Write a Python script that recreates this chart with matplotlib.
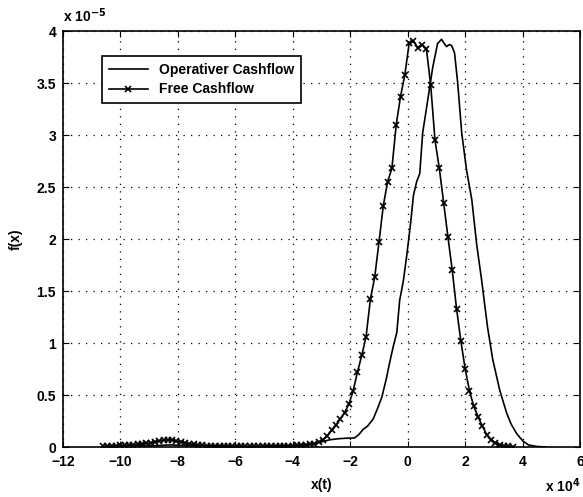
import matplotlib
matplotlib.use('Agg')
import matplotlib.pyplot as plt

plt.rcParams['font.family'] = ['Liberation Sans', 'DejaVu Sans']
plt.rcParams['font.weight'] = 'bold'

# x in units of 1e4, f(x) in units of 1e-5
op_x = [-10.5, -9.0, -8.3, -7.0, -5.0, -4.0, -3.3, -3.0, -2.7, -2.4, -2.1, -1.85,
        -1.7, -1.55, -1.4, -1.2, -1.05, -0.9, -0.75, -0.63, -0.5, -0.38, -0.28,
        -0.15, -0.03, 0.1, 0.2, 0.31, 0.42, 0.52, 0.7, 0.87, 1.04, 1.18, 1.27,
        1.35, 1.45, 1.53, 1.63, 1.74, 1.88, 2.05, 2.23, 2.4, 2.57, 2.78, 2.96,
        3.2, 3.44, 3.6, 3.79, 4.0, 4.2, 4.5, 4.8]
op_y = [0.003, 0.01, 0.02, 0.008, 0.005, 0.01, 0.03, 0.05, 0.07, 0.08, 0.085, 0.087,
        0.12, 0.17, 0.2, 0.27, 0.37, 0.48, 0.65, 0.81, 0.97, 1.10, 1.41,
        1.6, 1.85, 2.15, 2.42, 2.55, 2.63, 3.02, 3.34, 3.65, 3.88, 3.92, 3.88,
        3.85, 3.87, 3.86, 3.79, 3.5, 3.02, 2.66, 2.38, 1.95, 1.61, 1.15, 0.84,
        0.55, 0.33, 0.22, 0.13, 0.06, 0.02, 0.005, 0.0]

free_x = [-10.6, -10.45, -10.3, -10.15, -10.0, -9.85, -9.7, -9.55, -9.4, -9.25,
          -9.1, -8.95, -8.8, -8.65, -8.5, -8.35, -8.2, -8.05, -7.9, -7.75,
          -7.6, -7.45, -7.3, -7.15, -7.0, -6.85, -6.7, -6.55, -6.4, -6.25,
          -6.1, -5.95, -5.8, -5.65, -5.5, -5.35, -5.2, -5.05, -4.9, -4.75,
          -4.6, -4.45, -4.3, -4.15, -4.0, -3.85, -3.7, -3.55, -3.4, -3.25,
          -3.1, -2.95, -2.8, -2.65, -2.5, -2.35, -2.2, -2.05, -1.9, -1.75,
          -1.6, -1.45, -1.3, -1.15, -1.0, -0.85, -0.7, -0.55, -0.4, -0.25,
          -0.1, 0.05, 0.2, 0.35, 0.5, 0.65, 0.8, 0.95, 1.1, 1.25,
          1.4, 1.55, 1.7, 1.85, 2.0, 2.15, 2.3, 2.45, 2.6, 2.75,
          2.9, 3.05, 3.2, 3.35, 3.5, 3.65]
free_y = [0.005, 0.008, 0.01, 0.012, 0.015, 0.018, 0.02, 0.022, 0.025, 0.03,
          0.035, 0.04, 0.05, 0.058, 0.065, 0.07, 0.068, 0.06, 0.05, 0.04,
          0.032, 0.025, 0.02, 0.016, 0.013, 0.011, 0.01, 0.009, 0.008, 0.007,
          0.007, 0.006, 0.006, 0.006, 0.006, 0.006, 0.006, 0.007, 0.007, 0.008,
          0.009, 0.01, 0.011, 0.012, 0.013, 0.015, 0.017, 0.02, 0.025, 0.032,
          0.045, 0.07, 0.11, 0.16, 0.21, 0.27, 0.33, 0.41, 0.54, 0.72,
          0.88, 1.06, 1.42, 1.63, 1.97, 2.32, 2.55, 2.68, 3.1, 3.37,
          3.58, 3.88, 3.9, 3.84, 3.87, 3.83, 3.48, 2.95, 2.68, 2.35,
          2.02, 1.7, 1.33, 1.02, 0.75, 0.54, 0.39, 0.29, 0.2, 0.12,
          0.07, 0.04, 0.02, 0.01, 0.005, 0.003]

xticks = [-12, -10, -8, -6, -4, -2, 0, 2, 4, 6]
yticks = [0, 0.5, 1, 1.5, 2, 2.5, 3, 3.5, 4]
ytick_labels = ['0', '0.5', '1', '1.5', '2', '2.5', '3', '3.5', '4']

fig = plt.figure(figsize=(5.83, 4.97), dpi=100)
ax = fig.add_axes([0.108, 0.1006, 0.887, 0.837])

ax.plot(op_x, op_y, '-', color='black', lw=1.2, label='Operativer Cashflow')
ax.plot(free_x, free_y, '-x', color='black', lw=1.2, ms=5, mew=1.2,
        label='Free Cashflow')

ax.set_xlim(-12, 6)
ax.set_ylim(0, 4)
ax.set_xticks(xticks)
ax.set_xticklabels([('\u2212' + str(-t)) if t < 0 else str(t) for t in xticks])
ax.set_yticks(yticks)
ax.set_yticklabels(ytick_labels)
ax.tick_params(direction='in', top=True, right=True, labelsize=10, length=4)
ax.tick_params(axis='x', pad=6)
ax.tick_params(axis='y', pad=5)
for s in ax.spines.values():
    s.set_linewidth(1.2)
ax.grid(True, linestyle=(0, (1, 5)), color='black', lw=0.9)

ax.set_xlabel('x(t)', fontsize=10, fontweight='bold', labelpad=6)
ax.set_ylabel('f(x)', fontsize=10, fontweight='bold', labelpad=10)

fig.text(0.108, 0.95, r'x 10$^{-5}$', fontsize=10, fontweight='bold', ha='left', va='bottom')
fig.text(0.935, 0.005, r'x 10$^{4}$', fontsize=10, fontweight='bold', ha='left', va='bottom')

leg = ax.legend(loc='upper left', bbox_to_anchor=(0.075, 0.94), borderaxespad=0,
                fancybox=False, edgecolor='black', framealpha=1, fontsize=10,
                handlelength=2.8, borderpad=0.5, labelspacing=0.4)
leg.get_frame().set_linewidth(1.2)

fig.savefig('out.png', dpi=100)
